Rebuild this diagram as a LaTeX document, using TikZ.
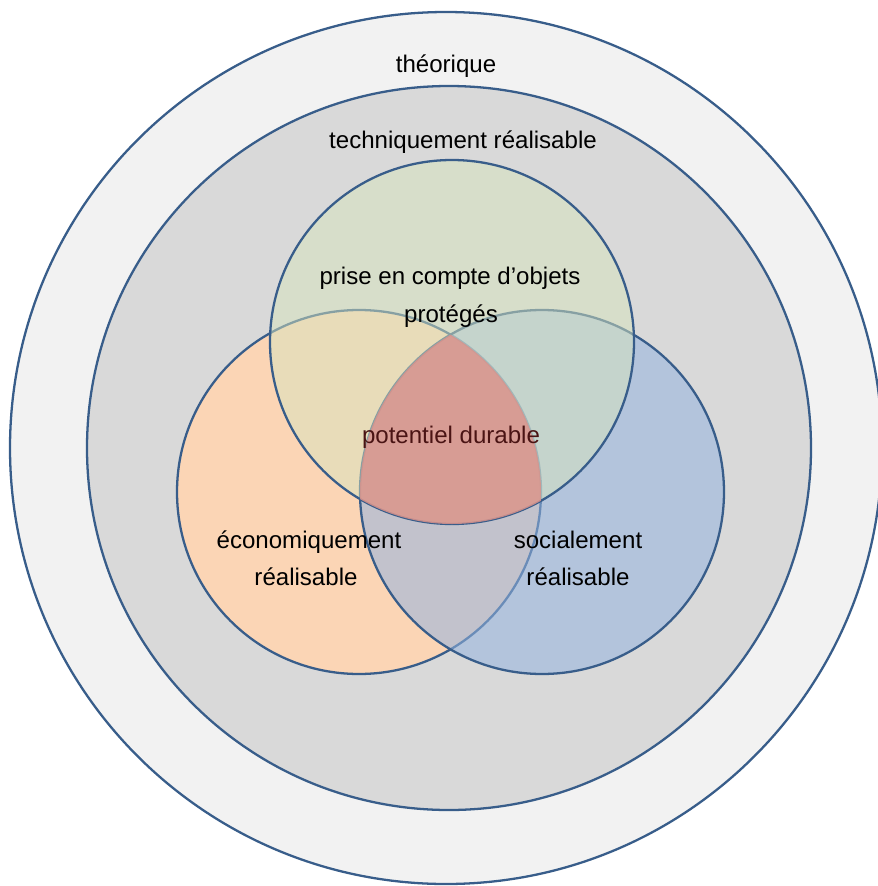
\documentclass[tikz,border=0pt]{standalone}
\usepackage{fontspec}
\setmainfont{Liberation Sans}
\definecolor{rim}{HTML}{385D8A}
\definecolor{outerfill}{HTML}{F2F2F2}
\definecolor{techfill}{HTML}{D9D9D9}
\definecolor{ecofill}{HTML}{FBD5B5}
\definecolor{socfill}{HTML}{94B4DF}
\definecolor{protfill}{HTML}{D7E4BD}
\definecolor{durfill}{HTML}{D9938C}
\definecolor{durtext}{HTML}{4A1414}
\tikzset{
  ring/.style={draw=rim, line width=1.3pt},
  lbl/.style={anchor=base, inner sep=0pt, font=\fontsize{13.7}{16}\selectfont, text=black},
}
\begin{document}
\begin{tikzpicture}[x=0.02cm,y=-0.02cm]
\useasboundingbox (0,0) rectangle (878,886);
\clip (0,0) rectangle (878,886);
\coordinate (cOut) at (446,448);
\coordinate (cTech) at (449,448);
\coordinate (cT) at (452,342);
\coordinate (cL) at (359,492);
\coordinate (cR) at (542,492);
% nested rings
\fill[white] (0,0) rectangle (878,886);
\path[ring, fill=outerfill] (cOut) circle[radius=436];
\path[ring, fill=techfill] (cTech) circle[radius=362];
% three sets
\path[ring, fill=ecofill] (cL) circle[radius=182];
\path[ring, fill=socfill, fill opacity=0.55] (cR) circle[radius=182];
\path[ring, fill=protfill, fill opacity=0.5] (cT) circle[radius=182];
% common core
\begin{scope}
  \clip (cL) circle[radius=182];
  \clip (cR) circle[radius=182];
  \fill[durfill, opacity=0.85] (cT) circle[radius=182];
\end{scope}
% labels
\node[lbl] (theo) at (446,72) {théorique};
\node[lbl] (tech) at (463,148) {techniquement réalisable};
\node[lbl] (prot1) at (450,284) {prise en compte d’objets};
\node[lbl] (prot2) at (451,322) {protégés};
\node[lbl, text=durtext] (dur) at (451,443) {potentiel durable};
\node[lbl] (eco1) at (309,548) {économiquement};
\node[lbl] (eco2) at (306,585) {réalisable};
\node[lbl] (soc1) at (578,548) {socialement};
\node[lbl] (soc2) at (578,585) {réalisable};
\end{tikzpicture}
\end{document}
